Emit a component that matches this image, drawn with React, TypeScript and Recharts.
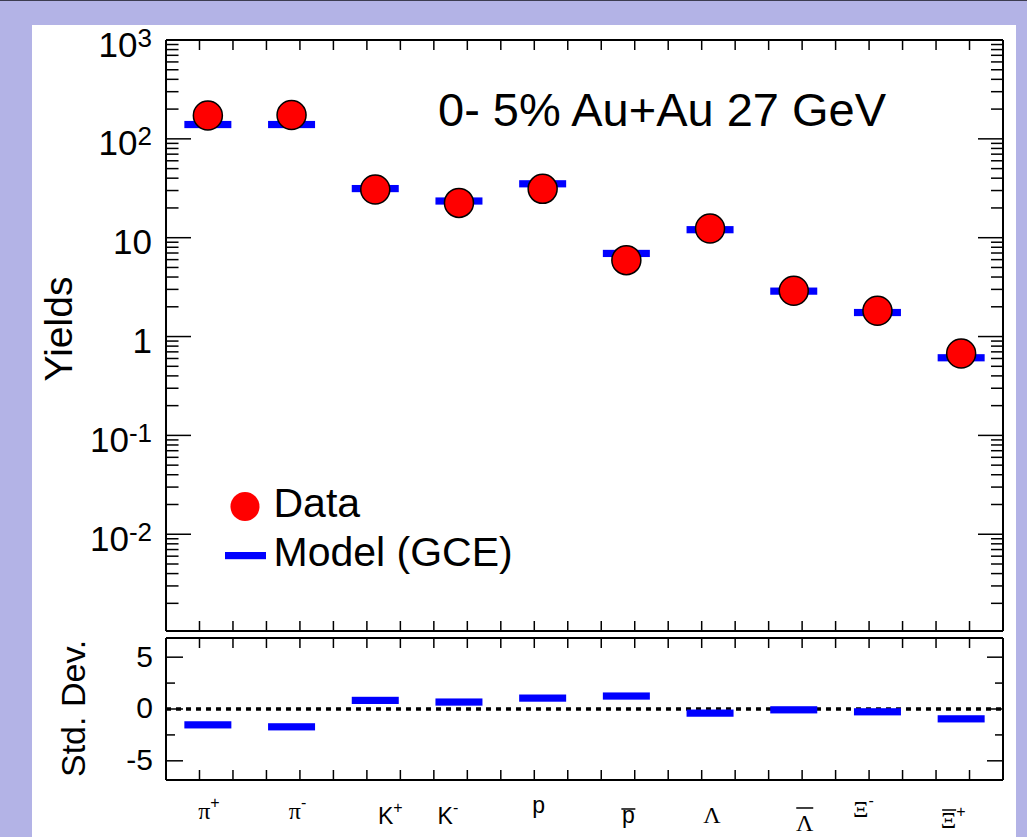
import React from "react";
import { ComposedChart, XAxis, YAxis, Scatter, ReferenceLine } from "recharts";

// particles along the x axis
const glyphs = ["π", "π", "K", "K", "p", "p", "Λ", "Λ", "Ξ", "Ξ"];
const charges = ["+", "-", "+", "-", "", "", "", "", "-", "+"];
const antiParticle = [false, false, false, false, false, true, false, true, false, true];

// yields, 0-5% Au+Au 27 GeV
const dataYields = [172, 174, 30.7, 22.5, 31.2, 5.93, 12.4, 2.91, 1.82, 0.675];
const modelYields = [139.6, 139.6, 31.4, 23.5, 35.1, 6.93, 12.05, 2.88, 1.75, 0.61];
// (data - model) / error
const stdDev = [-1.53, -1.72, 0.83, 0.67, 1.05, 1.25, -0.4, -0.08, -0.27, -0.95];

const yieldMajor = [0.01, 0.1, 1, 10, 100, 1000];
const yieldMajorBase = ["10", "10", "1", "10", "10", "10"];
const yieldMajorExp = ["-2", "-1", "", "", "2", "3"];
const devMajor = [-5, 0, 5];
const devMajorLabels = ["-5", "0", "5"];
const devMinor = [-2.5, 2.5];

const yieldMinor: number[] = [];
[0.001, 0.01, 0.1, 1, 10, 100].forEach((d) => {
  for (let m = 2; m <= 9; m++) yieldMinor.push(+(d * m).toPrecision(3));
});
const xTicks = Array.from({ length: 24 }, (_, k) => +((k + 1) * 0.4).toFixed(2));
const catTicks = glyphs.map((_, i) => i + 0.5);

const SANS = "'Liberation Sans', Arial, Helvetica, sans-serif";
const SERIF = "'Liberation Serif', 'Times New Roman', serif";
const BLUE = "#0000ff";
const RED = "#ff0000";
const THIN = 0.01; // axes need a non-zero size to be drawn

// hand placement of the particle labels (as in the original figure)
const labDx = [1, 6, 15, -11, -4, 2, 2, 11, -14, -8];
const labDy = [39, 39, 44, 44, 33, 43, 43, 51, 37, 48];
const overDy = [0, 0, 0, 0, 0, -14, 0, -23, 0, -18];
const overW = [0, 0, 0, 0, 0, 14, 0, 17, 0, 14];

const line = { stroke: "#000", strokeWidth: 2 };
const tickLn = { stroke: "#000", strokeWidth: 1.5 };

// tick marks only, no text
const NoLabel = () => <g />;

const YieldTick = ({ x, y, payload }: any) => {
  const i = yieldMajor.indexOf(payload.value);
  if (i < 0) return null;
  return (
    <text x={x} y={y + 16.5} textAnchor="end" fontSize={35} fontFamily={SANS} fill="#000">
      {yieldMajorBase[i]}
      {yieldMajorExp[i] && (
        <tspan dy={-10} fontSize={26}>
          {yieldMajorExp[i]}
        </tspan>
      )}
    </text>
  );
};

const DevTick = ({ x, y, payload }: any) => {
  const i = devMajor.indexOf(payload.value);
  if (i < 0) return null;
  return (
    <text x={x} y={y + 9.5} textAnchor="end" fontSize={30} fontFamily={SANS} fill="#000">
      {devMajorLabels[i]}
    </text>
  );
};

const ParticleTick = ({ x, y, payload }: any) => {
  const i = Math.floor(payload.value);
  const greek = glyphs[i] !== "K" && glyphs[i] !== "p";
  const cx = x + labDx[i];
  const by = y + labDy[i];
  const oc = cx - (charges[i] ? 4 : 0);
  return (
    <g>
      <text
        x={cx}
        y={by}
        textAnchor="middle"
        fontSize={greek ? 24 : 23}
        fontFamily={greek ? SERIF : SANS}
        fill="#000"
      >
        {glyphs[i]}
        {charges[i] && (
          <tspan dy={-11} fontSize={16} fontFamily={SANS}>
            {charges[i]}
          </tspan>
        )}
      </text>
      {antiParticle[i] && (
        <line x1={oc - overW[i] / 2} x2={oc + overW[i] / 2} y1={by + overDy[i]} y2={by + overDy[i]} stroke="#000" strokeWidth={1.5} />
      )}
    </g>
  );
};

const ModelBar = (p: any) => <rect x={p.cx - 23.5} y={p.cy - 3.6} width={47} height={7.2} fill={BLUE} />;
const DataDot = (p: any) => <circle cx={p.cx} cy={p.cy} r={14.5} fill={RED} stroke="#000" strokeWidth={1.5} />;

export default function App() {
  const rows = glyphs.map((g, i) => ({
    x: i + 0.5,
    data: dataYields[i],
    model: modelYields[i],
    dev: stdDev[i],
  }));

  const xAxes = (s: string) => [
    <XAxis key={"b" + s} xAxisId={"b" + s} dataKey="x" type="number" domain={[0, 10]} allowDataOverflow
      ticks={xTicks} interval={0} orientation="bottom" mirror height={THIN} tickSize={10} tick={NoLabel}
      axisLine={line} tickLine={tickLn} />,
    <XAxis key={"t" + s} xAxisId={"t" + s} dataKey="x" type="number" domain={[0, 10]} allowDataOverflow
      ticks={xTicks} interval={0} orientation="top" mirror height={THIN} tickSize={10} tick={NoLabel}
      axisLine={line} tickLine={tickLn} />,
  ];

  return (
    <div style={{ position: "absolute", left: 0, top: 0, width: 1027, height: 837, background: "#b3b3e6", overflow: "hidden" }}>
      <div style={{ position: "absolute", left: 0, top: 0, width: 1027, height: 1, background: "#3c3c50" }} />
      <div style={{ position: "absolute", left: 32, top: 25, width: 984, height: 812, background: "#fff" }} />

      {/* upper panel: yields */}
      <div style={{ position: "absolute", left: 0, top: 0 }}>
        <ComposedChart width={1027} height={640} data={rows} margin={{ top: 40, right: 24, bottom: 9, left: 166 }}>
          {xAxes("")}
          <YAxis yAxisId="maj" type="number" scale="log" domain={[0.00105, 1000]} allowDataOverflow ticks={yieldMajor}
            interval={0} orientation="left" mirror width={THIN} tickSize={25} tick={NoLabel} axisLine={line} tickLine={tickLn} />
          <YAxis yAxisId="min" type="number" scale="log" domain={[0.00105, 1000]} allowDataOverflow ticks={yieldMinor}
            interval={0} orientation="left" mirror width={THIN} tickSize={12.5} tick={NoLabel} axisLine={false} tickLine={tickLn} />
          <YAxis yAxisId="rmaj" type="number" scale="log" domain={[0.00105, 1000]} allowDataOverflow ticks={yieldMajor}
            interval={0} orientation="right" mirror width={THIN} tickSize={25} tick={NoLabel} axisLine={line} tickLine={tickLn} />
          <YAxis yAxisId="rmin" type="number" scale="log" domain={[0.00105, 1000]} allowDataOverflow ticks={yieldMinor}
            interval={0} orientation="right" mirror width={THIN} tickSize={12} tick={NoLabel} axisLine={false} tickLine={tickLn} />
          <YAxis yAxisId="lab" type="number" scale="log" domain={[0.00105, 1000]} allowDataOverflow ticks={yieldMajor}
            interval={0} orientation="left" width={THIN} tickSize={0} tickMargin={14} tick={<YieldTick />} axisLine={false} tickLine={false} />
          <Scatter xAxisId="b" yAxisId="maj" dataKey="model" shape={ModelBar} isAnimationActive={false} />
          <Scatter xAxisId="b" yAxisId="maj" dataKey="data" shape={DataDot} isAnimationActive={false} />
        </ComposedChart>
      </div>

      {/* lower panel: deviations */}
      <div style={{ position: "absolute", left: 0, top: 0 }}>
        <ComposedChart width={1027} height={837} data={rows} margin={{ top: 638, right: 24, bottom: 57, left: 166 }}>
          {xAxes("2")}
          <XAxis xAxisId="lab" dataKey="x" type="number" domain={[0, 10]} allowDataOverflow ticks={catTicks} interval={0}
            orientation="bottom" height={THIN} tickSize={0} tickMargin={0} tick={<ParticleTick />} axisLine={false} tickLine={false} />
          <YAxis yAxisId="dmaj" type="number" domain={[-6.85, 6.85]} allowDataOverflow ticks={devMajor} interval={0}
            orientation="left" mirror width={THIN} tickSize={17} tick={NoLabel} axisLine={line} tickLine={tickLn} />
          <YAxis yAxisId="dmin" type="number" domain={[-6.85, 6.85]} allowDataOverflow ticks={devMinor} interval={0}
            orientation="left" mirror width={THIN} tickSize={9} tick={NoLabel} axisLine={false} tickLine={tickLn} />
          <YAxis yAxisId="drmaj" type="number" domain={[-6.85, 6.85]} allowDataOverflow ticks={devMajor} interval={0}
            orientation="right" mirror width={THIN} tickSize={16} tick={NoLabel} axisLine={line} tickLine={tickLn} />
          <YAxis yAxisId="drmin" type="number" domain={[-6.85, 6.85]} allowDataOverflow ticks={devMinor} interval={0}
            orientation="right" mirror width={THIN} tickSize={8} tick={NoLabel} axisLine={false} tickLine={tickLn} />
          <YAxis yAxisId="dlab" type="number" domain={[-6.85, 6.85]} allowDataOverflow ticks={devMajor} interval={0}
            orientation="left" width={THIN} tickSize={0} tickMargin={13} tick={<DevTick />} axisLine={false} tickLine={false} />
          <ReferenceLine xAxisId="b2" yAxisId="dmaj" y={0} stroke="#000" strokeWidth={3.3} strokeDasharray="5 5" />
          <Scatter xAxisId="b2" yAxisId="dmaj" dataKey="dev" shape={ModelBar} isAnimationActive={false} />
        </ComposedChart>
      </div>

      {/* titles and legend */}
      <svg width={1027} height={837} style={{ position: "absolute", left: 0, top: 0, pointerEvents: "none" }}>
        <text x={438} y={126} fontSize={47} fontFamily={SANS} fill="#000">
          0- 5% Au+Au 27 GeV
        </text>
        <text transform="translate(72,329) rotate(-90)" textAnchor="middle" fontSize={39} fontFamily={SANS} fill="#000">
          Yields
        </text>
        <text transform="translate(85,777) rotate(-90)" fontSize={34} fontFamily={SANS} fill="#000">
          Std. Dev.
        </text>
        <circle cx={245} cy={506.5} r={14.5} fill={RED} />
        <rect x={225} y={552} width={41} height={7.2} fill={BLUE} />
        <text x={273.5} y={517.3} fontSize={41} fontFamily={SANS} fill="#000">
          Data
        </text>
        <text x={273.5} y={565.7} fontSize={41} fontFamily={SANS} fill="#000">
          Model (GCE)
        </text>
      </svg>
    </div>
  );
}
